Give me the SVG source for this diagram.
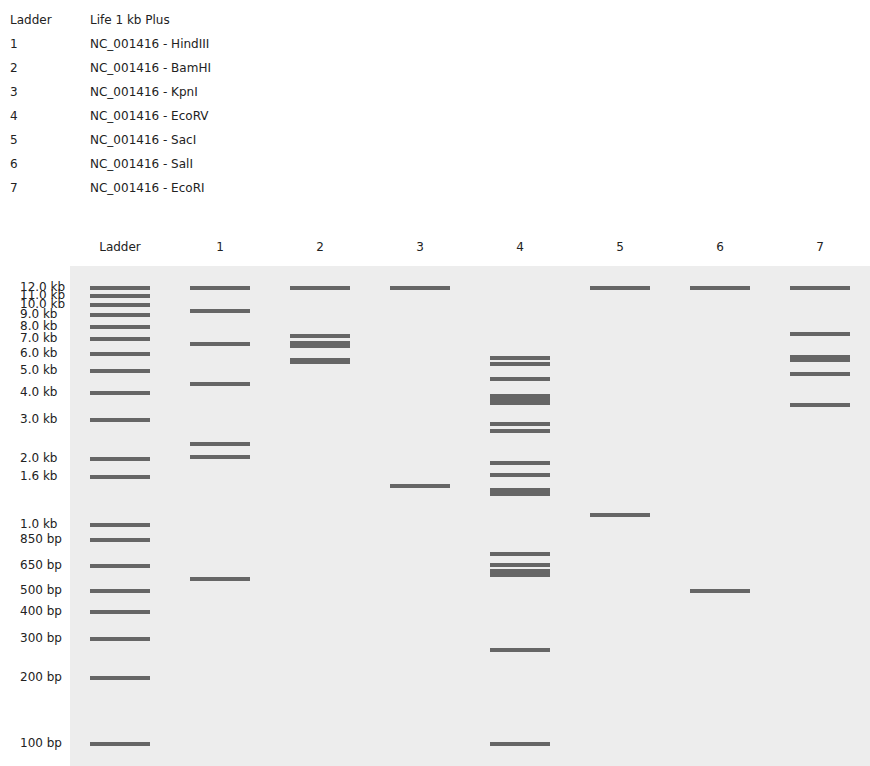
<svg xmlns="http://www.w3.org/2000/svg" width="870" height="766" viewBox="0 0 870 766">
<style>
text{font-family:"DejaVu Sans","Liberation Sans",sans-serif;font-size:12px;fill:#222}
.hdr{text-anchor:middle}
.gel{fill:#ededed}
.b rect{fill:#666666}
</style>
<rect width="870" height="766" fill="#ffffff"/>
<g id="legend">
<text x="10" y="24.3">Ladder</text><text x="90" y="24.3">Life 1 kb Plus</text>
<text x="10" y="48.3">1</text><text x="90" y="48.3">NC_001416 - HindIII</text>
<text x="10" y="72.3">2</text><text x="90" y="72.3">NC_001416 - BamHI</text>
<text x="10" y="96.3">3</text><text x="90" y="96.3">NC_001416 - KpnI</text>
<text x="10" y="120.3">4</text><text x="90" y="120.3">NC_001416 - EcoRV</text>
<text x="10" y="144.3">5</text><text x="90" y="144.3">NC_001416 - SacI</text>
<text x="10" y="168.3">6</text><text x="90" y="168.3">NC_001416 - SalI</text>
<text x="10" y="192.3">7</text><text x="90" y="192.3">NC_001416 - EcoRI</text>
</g>
<g id="headers">
<text class="hdr" x="120" y="251.2">Ladder</text>
<text class="hdr" x="220" y="251.2">1</text>
<text class="hdr" x="320" y="251.2">2</text>
<text class="hdr" x="420" y="251.2">3</text>
<text class="hdr" x="520" y="251.2">4</text>
<text class="hdr" x="620" y="251.2">5</text>
<text class="hdr" x="720" y="251.2">6</text>
<text class="hdr" x="820" y="251.2">7</text>
</g>
<rect id="gel" class="gel" x="70" y="266" width="800" height="500"/>
<g id="size-labels">
<text x="20" y="291.3">12.0 kb</text>
<text x="20" y="299.3">11.0 kb</text>
<text x="20" y="308.3">10.0 kb</text>
<text x="20" y="318.3">9.0 kb</text>
<text x="20" y="330.3">8.0 kb</text>
<text x="20" y="342.3">7.0 kb</text>
<text x="20" y="357.3">6.0 kb</text>
<text x="20" y="374.3">5.0 kb</text>
<text x="20" y="396.3">4.0 kb</text>
<text x="20" y="423.3">3.0 kb</text>
<text x="20" y="462.3">2.0 kb</text>
<text x="20" y="480.3">1.6 kb</text>
<text x="20" y="528.3">1.0 kb</text>
<text x="20" y="543.3">850 bp</text>
<text x="20" y="569.3">650 bp</text>
<text x="20" y="594.3">500 bp</text>
<text x="20" y="615.3">400 bp</text>
<text x="20" y="642.3">300 bp</text>
<text x="20" y="681.3">200 bp</text>
<text x="20" y="747.3">100 bp</text>
</g>
<g id="lane-ladder" class="b">
<rect x="90" y="286" width="60" height="4"/>
<rect x="90" y="294" width="60" height="4"/>
<rect x="90" y="303" width="60" height="4"/>
<rect x="90" y="313" width="60" height="4"/>
<rect x="90" y="325" width="60" height="4"/>
<rect x="90" y="337" width="60" height="4"/>
<rect x="90" y="352" width="60" height="4"/>
<rect x="90" y="369" width="60" height="4"/>
<rect x="90" y="391" width="60" height="4"/>
<rect x="90" y="418" width="60" height="4"/>
<rect x="90" y="457" width="60" height="4"/>
<rect x="90" y="475" width="60" height="4"/>
<rect x="90" y="523" width="60" height="4"/>
<rect x="90" y="538" width="60" height="4"/>
<rect x="90" y="564" width="60" height="4"/>
<rect x="90" y="589" width="60" height="4"/>
<rect x="90" y="610" width="60" height="4"/>
<rect x="90" y="637" width="60" height="4"/>
<rect x="90" y="676" width="60" height="4"/>
<rect x="90" y="742" width="60" height="4"/>
</g>
<g id="lane-1" class="b">
<rect x="190" y="286" width="60" height="4"/>
<rect x="190" y="309" width="60" height="4"/>
<rect x="190" y="342" width="60" height="4"/>
<rect x="190" y="382" width="60" height="4"/>
<rect x="190" y="442" width="60" height="4"/>
<rect x="190" y="455" width="60" height="4"/>
<rect x="190" y="577" width="60" height="4"/>
</g>
<g id="lane-2" class="b">
<rect x="290" y="286" width="60" height="4"/>
<rect x="290" y="334" width="60" height="4"/>
<rect x="290" y="341" width="60" height="7"/>
<rect x="290" y="358" width="60" height="6"/>
</g>
<g id="lane-3" class="b">
<rect x="390" y="286" width="60" height="4"/>
<rect x="390" y="484" width="60" height="4"/>
</g>
<g id="lane-4" class="b">
<rect x="490" y="356" width="60" height="4"/>
<rect x="490" y="362" width="60" height="4"/>
<rect x="490" y="377" width="60" height="4"/>
<rect x="490" y="394" width="60" height="11"/>
<rect x="490" y="422" width="60" height="4"/>
<rect x="490" y="429" width="60" height="4"/>
<rect x="490" y="461" width="60" height="4"/>
<rect x="490" y="473" width="60" height="4"/>
<rect x="490" y="488" width="60" height="8"/>
<rect x="490" y="552" width="60" height="4"/>
<rect x="490" y="563" width="60" height="4"/>
<rect x="490" y="569" width="60" height="8"/>
<rect x="490" y="648" width="60" height="4"/>
<rect x="490" y="742" width="60" height="4"/>
</g>
<g id="lane-5" class="b">
<rect x="590" y="286" width="60" height="4"/>
<rect x="590" y="513" width="60" height="4"/>
</g>
<g id="lane-6" class="b">
<rect x="690" y="286" width="60" height="4"/>
<rect x="690" y="589" width="60" height="4"/>
</g>
<g id="lane-7" class="b">
<rect x="790" y="286" width="60" height="4"/>
<rect x="790" y="332" width="60" height="4"/>
<rect x="790" y="355" width="60" height="7"/>
<rect x="790" y="372" width="60" height="4"/>
<rect x="790" y="403" width="60" height="4"/>
</g>
</svg>
